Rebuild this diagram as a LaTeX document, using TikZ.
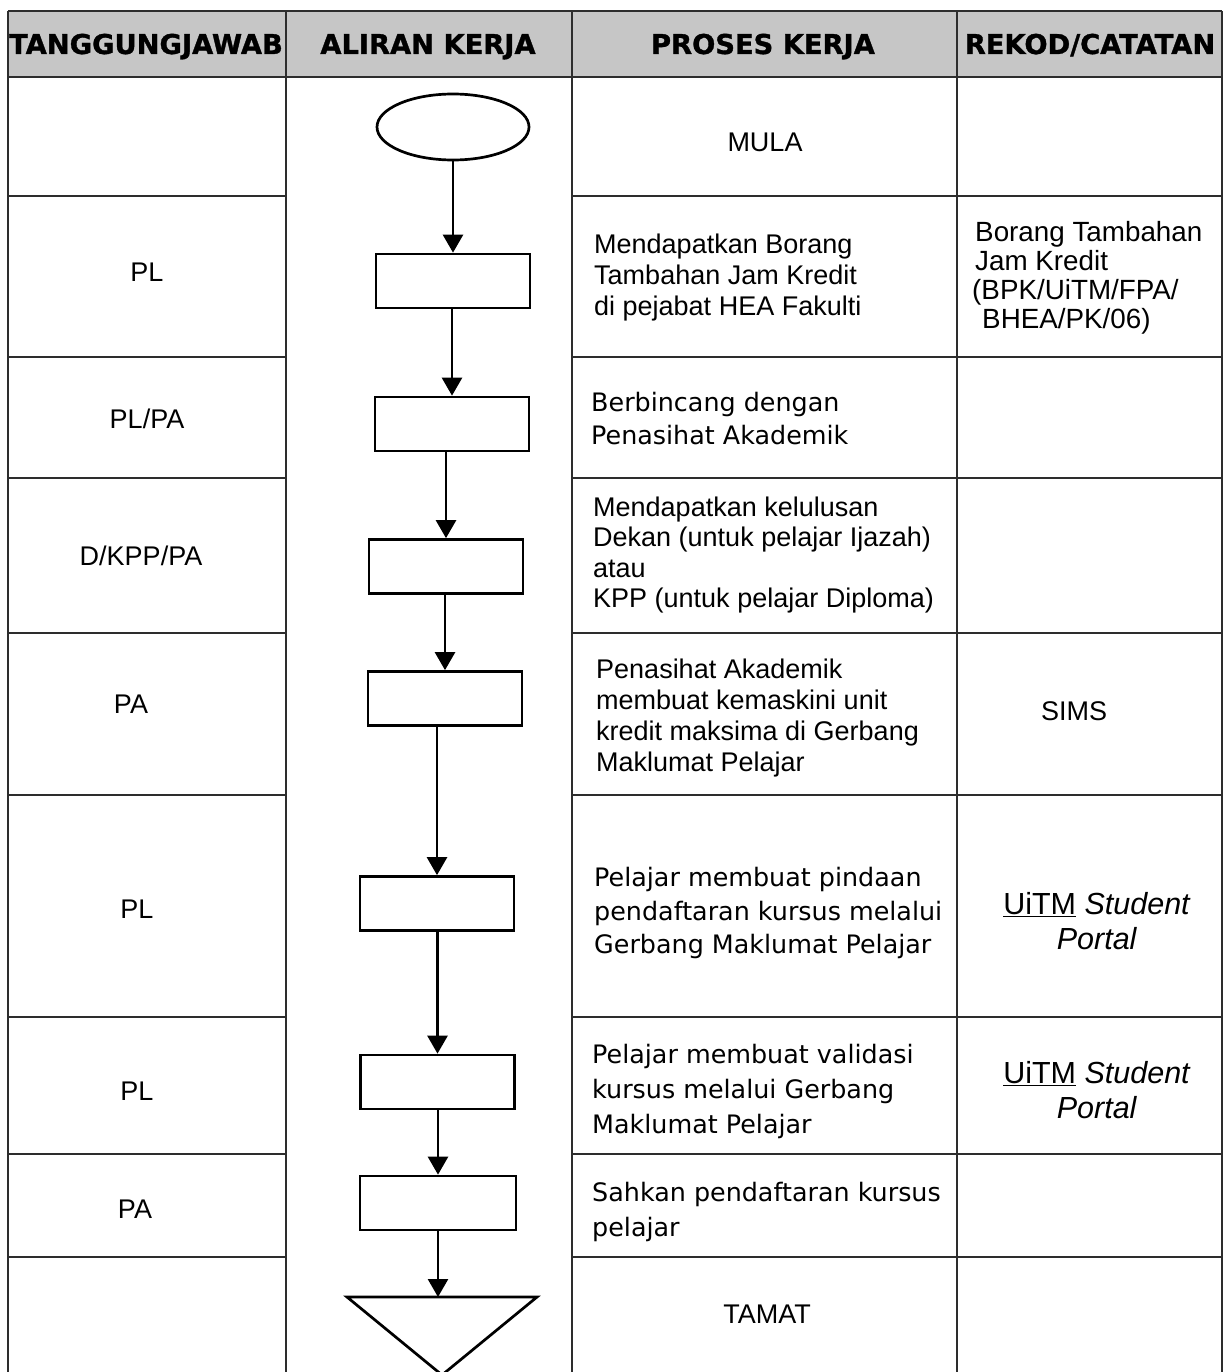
\documentclass[tikz,border=0pt]{standalone}
\usepackage{fontspec}
\setmainfont{Liberation Sans}
\newfontfamily\verd{DejaVu Sans}
\newfontfamily\verdheavy[FakeBold=1.2]{DejaVu Sans Bold}
\usetikzlibrary{arrows.meta,shapes.geometric}
\definecolor{hdrfill}{RGB}{198,198,198}
\definecolor{gridcol}{RGB}{45,45,45}
\begin{document}
\begin{tikzpicture}[x=1pt,y=-1pt,
  grid/.style={line width=2pt, draw=gridcol},
  shapeline/.style={draw=black, line width=2.7pt},
  flowbox/.style={shapeline, rectangle, minimum width=154pt, minimum height=54pt, inner sep=0pt},
  conn/.style={line width=2.6pt, -{Triangle[length=18pt,width=20pt]}},
  hdr/.style={font=\verdheavy\fontsize{27.3}{30}\selectfont, anchor=base, inner sep=0pt},
  lab/.style={font=\fontsize{27}{31}\selectfont, anchor=base, inner sep=0pt},
  ar/.style={font=\fontsize{27}{31}\selectfont, inner sep=0pt, align=left, anchor=west},
  vd/.style={font=\verd\fontsize{25.4}{34}\selectfont, inner sep=0pt, align=left, anchor=west},
  portal/.style={font=\fontsize{30.5}{35}\selectfont, inner sep=0pt, align=center}
]
\useasboundingbox (0,0) rectangle (1226,1372);
\fill[white] (0,0) rectangle (1226,1372);
% header band
\fill[hdrfill] (8,11) rectangle (1222,77);
% table grid
\draw[grid] (8,11) -- (1222,11);
\draw[grid] (8,77) -- (1222,77);
\foreach \x in {8,286,572,957,1222} \draw[grid] (\x,11) -- (\x,1372);
\foreach \y in {196,357,478,633,795,1017,1154,1257} {
  \draw[grid] (8,\y) -- (286,\y);
  \draw[grid] (572,\y) -- (1222,\y);
}
% header texts
\node[hdr] (h1) at (146,54) {TANGGUNGJAWAB};
\node[hdr] (h2) at (428,54) {ALIRAN KERJA};
\node[hdr] (h3) at (763,54) {PROSES KERJA};
\node[hdr] (h4) at (1090,54) {REKOD/CATATAN};
% responsibility labels
\node[lab] (l1) at (147,281) {PL};
\node[lab] (l2) at (147,428) {PL/PA};
\node[lab] (l3) at (141,565) {D/KPP/PA};
\node[lab] (l4) at (131,713) {PA};
\node[lab] (l5) at (137,918) {PL};
\node[lab] (l6) at (137,1100) {PL};
\node[lab] (l7) at (135,1218) {PA};
% flow shapes
\node[shapeline, ellipse, minimum width=152pt, minimum height=66pt, inner sep=0pt] (start) at (453,127) {};
\node[flowbox] (b1) at (453,281) {};
\node[flowbox] (b2) at (452,424) {};
\node[flowbox] (b3) at (446,566.5) {};
\node[flowbox] (b4) at (445,698.5) {};
\node[flowbox] (b5) at (437,903.5) {};
\node[flowbox] (b6) at (437.5,1082) {};
\node[flowbox, minimum width=156pt] (b7) at (438,1203) {};
\coordinate (tt) at (438,1297);
\draw[shapeline, line join=miter] (347,1297) -- (537,1297) -- (442,1375) -- cycle;
% connectors
\draw[conn] (start.south) -- (b1.north);
\draw[conn] (b2.north |- b1.south) -- (b2.north);
\draw[conn] (b3.north |- b2.south) -- (b3.north);
\draw[conn] (b4.north |- b3.south) -- (b4.north);
\draw[conn] (b5.north |- b4.south) -- (b5.north);
\draw[conn] (b6.north |- b5.south) -- (b6.north);
\draw[conn] (b7.north |- b6.south) -- (b7.north);
\draw[conn] (b7.south) -- (tt);
% process texts
\node[lab] (mula) at (765,152) {MULA};
\node[ar] (p1) at (594,278) {Mendapatkan Borang\\Tambahan Jam Kredit\\di pejabat HEA Fakulti};
\node[vd, font=\verd\fontsize{25.4}{33}\selectfont] (p2) at (591,419) {Berbincang dengan\\Penasihat Akademik};
\node[ar, font=\fontsize{27}{30.5}\selectfont] (p3) at (593,555) {Mendapatkan kelulusan\\Dekan (untuk pelajar Ijazah)\\atau\\KPP (untuk pelajar Diploma)};
\node[ar] (p4) at (596,718) {Penasihat Akademik\\membuat kemaskini unit\\kredit maksima di Gerbang\\Maklumat Pelajar};
\node[vd, font=\verd\fontsize{25.4}{33.5}\selectfont] (p5) at (594,913) {Pelajar membuat pindaan\\pendaftaran kursus melalui\\Gerbang Maklumat Pelajar};
\node[vd, font=\verd\fontsize{25.4}{35}\selectfont] (p6) at (592,1091) {Pelajar membuat validasi\\kursus melalui Gerbang\\Maklumat Pelajar};
\node[vd, font=\verd\fontsize{25.4}{35}\selectfont] (p7) at (592,1212) {Sahkan pendaftaran kursus\\pelajar};
\node[lab] (tamat) at (767,1323) {TAMAT};
% record texts
\node[ar, font=\fontsize{27.8}{29}\selectfont] (r1) at (972,278) {\hspace*{3pt}Borang Tambahan\\\hspace*{3pt}Jam Kredit\\(BPK/UiTM/FPA/\\\hspace*{10pt}BHEA/PK/06)};
\node[lab] (r4) at (1074,720) {SIMS};
\node[portal] (r5) at (1097,921) {\underline{UiTM} \textit{Student}\\\textit{Portal}};
\node[portal] (r6) at (1097,1090) {\underline{UiTM} \textit{Student}\\\textit{Portal}};
\end{tikzpicture}
\end{document}
